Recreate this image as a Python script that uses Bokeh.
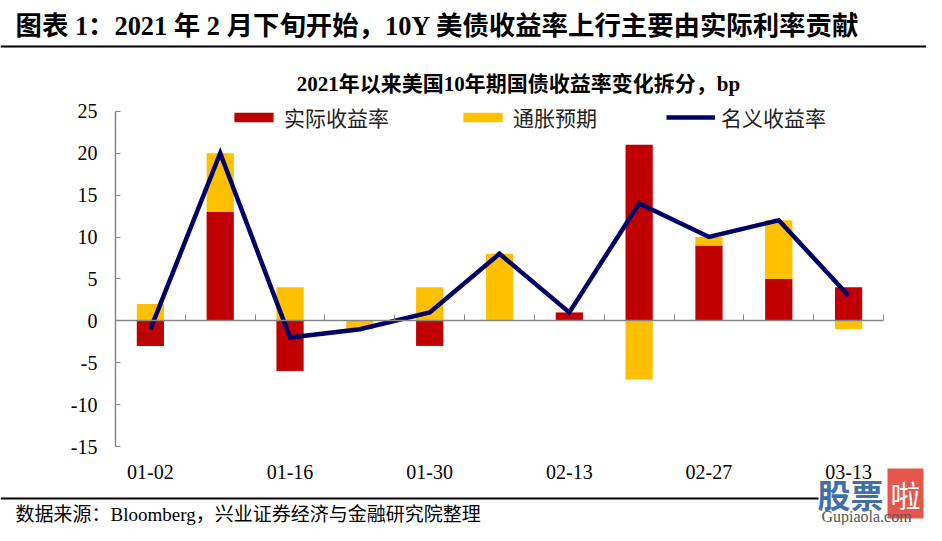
from bokeh.plotting import figure
from bokeh.models import (Range1d, FixedTicker, LinearAxis, Label, BoxAnnotation,
                          Legend, LegendItem)
from bokeh.embed import file_html
from bokeh.resources import INLINE

# ---- data ----
dates = ["01-02", "01-09", "01-16", "01-23", "01-30", "02-06",
         "02-13", "02-20", "02-27", "03-06", "03-13"]
real_yield = [-3, 13, -6, 0, -3, 0, 1, 21, 9, 5, 4]
inflation_exp = [2, 7, 4, -1, 4, 8, 0, -7, 1, 7, -1]
nominal_yield = [-1, 20, -2, -1, 1, 8, 1, 14, 10, 12, 3]
tick_label_idx = [0, 2, 4, 6, 8, 10]
y_ticks = [-15, -10, -5, 0, 5, 10, 15, 20, 25]
y_tick_labels = ["-15", "-10", "-5", "0", "5", "10", "15", "20", "25"]

title_text = "图表 1：2021 年 2 月下旬开始，10Y 美债收益率上行主要由实际利率贡献"
chart_title = "2021年以来美国10年期国债收益率变化拆分，bp"
source_text = "数据来源：Bloomberg，兴业证券经济与金融研究院整理"
series_names = ["实际收益率", "通胀预期", "名义收益率"]

RED = "#C00000"
YEL = "#FFC000"
NAVY = "#000066"
GREY = "#868686"
SERIF = "Liberation Serif, Noto Sans CJK SC"

x = list(range(len(dates)))
n = len(x)

# stacking like Excel: positives stack upward, negatives downward
pos = [0.0] * n
neg = [0.0] * n
stacks = []
for vals in (real_yield, inflation_exp):
    bottoms, tops = [], []
    for i, v in enumerate(vals):
        if v >= 0:
            bottoms.append(pos[i]); tops.append(pos[i] + v); pos[i] += v
        else:
            tops.append(neg[i]); bottoms.append(neg[i] + v); neg[i] += v
    stacks.append((bottoms, tops))

# ---- layout (pixels) ----
W, H = 926, 525
ax_left, ax_right = 115, 883        # plot area in px
ax_top, ax_bottom = 110.8, 446
ymin, ymax = y_ticks[0], y_ticks[-1]
xmin, xmax = -0.5, n - 0.5
ppx = (ax_right - ax_left) / (xmax - xmin)
ppy = (ax_bottom - ax_top) / (ymax - ymin)

p = figure(width=W, height=H, output_backend="svg", toolbar_location=None,
           x_range=Range1d(xmin - ax_left / ppx, xmax + (W - ax_right) / ppx),
           y_range=Range1d(ymin - (H - ax_bottom) / ppy, ymax + ax_top / ppy),
           min_border=0, x_axis_location=None, y_axis_location=None)
p.outline_line_color = None
p.grid.visible = False
p.background_fill_color = "white"
p.border_fill_color = "white"

renderers = []
for (b, t), c in zip(stacks, [RED, YEL]):
    renderers.append(p.vbar(x=x, bottom=b, top=t, width=0.39, fill_color=c, line_color=None))
renderers.append(p.line(x=x, y=nominal_yield, line_color=NAVY, line_width=4.5, line_join="miter"))

# y axis
ya = LinearAxis(fixed_location=xmin, bounds=(ymin, ymax),
                ticker=FixedTicker(ticks=y_ticks),
                major_label_overrides=dict(zip(y_ticks, y_tick_labels)),
                major_tick_in=5, major_tick_out=0, minor_tick_line_color=None,
                axis_line_color=GREY, major_tick_line_color=GREY, axis_line_width=1.5,
                major_label_text_font="Liberation Serif", major_label_text_font_size="20px",
                major_label_text_color="black", major_label_standoff=18)
p.add_layout(ya, "left")

# zero line with category-boundary ticks
za = LinearAxis(fixed_location=0, bounds=(xmin, xmax),
                ticker=FixedTicker(ticks=[i - 0.5 for i in range(n + 1)]),
                major_tick_in=6, major_tick_out=0, minor_tick_line_color=None,
                axis_line_color=GREY, major_tick_line_color=GREY, axis_line_width=1.5,
                major_label_text_alpha=0, major_label_text_font_size="1px")
p.add_layout(za, "below")

# x labels
xa = LinearAxis(fixed_location=ymin, bounds=(xmin, xmax),
                ticker=FixedTicker(ticks=tick_label_idx),
                major_label_overrides={i: dates[i] for i in tick_label_idx},
                axis_line_color=None, major_tick_line_color=None, minor_tick_line_color=None,
                major_label_text_font="Liberation Serif", major_label_text_font_size="20px",
                major_label_text_color="black", major_label_standoff=12)
p.add_layout(xa, "below")

# legend
legend = Legend(items=[LegendItem(label=s, renderers=[r]) for s, r in zip(series_names, renderers)],
                orientation="horizontal", location=(229, 393),
                glyph_width=49, glyph_height=12, label_standoff=6, spacing=69,
                padding=0, margin=0, border_line_color=None,
                background_fill_alpha=0, label_text_font=SERIF,
                label_text_font_size="21px", label_text_color="#222222")
p.add_layout(legend, "center")

def sy(y):  # screen y from top -> bokeh screen units from bottom
    return H - y

# texts
p.add_layout(Label(x=15, y=sy(25), x_units="screen", y_units="screen", text=title_text,
                   text_font=SERIF, text_font_style="bold", text_font_size="26.4px",
                   text_baseline="middle", text_color="black"))
p.add_layout(BoxAnnotation(left=0, right=W, bottom=sy(47), top=sy(45),
                           left_units="screen", right_units="screen",
                           bottom_units="screen", top_units="screen",
                           fill_color="black", fill_alpha=1, line_color=None))
p.add_layout(Label(x=518, y=sy(83), x_units="screen", y_units="screen", text=chart_title,
                   text_font=SERIF, text_font_style="bold", text_font_size="21px",
                   text_baseline="middle", text_align="center", text_color="black"))
p.add_layout(BoxAnnotation(left=0, right=818, bottom=sy(499), top=sy(497),
                           left_units="screen", right_units="screen",
                           bottom_units="screen", top_units="screen",
                           fill_color="black", fill_alpha=1, line_color=None))
p.add_layout(Label(x=15, y=sy(514), x_units="screen", y_units="screen", text=source_text,
                   text_font=SERIF, text_font_size="19px",
                   text_baseline="middle", text_color="black"))
# watermark
p.add_layout(Label(x=817, y=sy(493), x_units="screen", y_units="screen", text="股票",
                   text_font="Noto Sans CJK SC", text_font_style="bold", text_font_size="33px",
                   text_baseline="middle", text_color="#3F6EA8"))
p.add_layout(Label(x=887, y=sy(493), x_units="screen", y_units="screen", text="啦",
                   text_font="Noto Sans CJK SC", text_font_size="30px",
                   text_baseline="middle", text_color="white",
                   background_fill_color="#E5574A", padding=3))
p.add_layout(Label(x=866, y=sy(516), x_units="screen", y_units="screen", text="Gupiaola.com",
                   text_font="Liberation Serif", text_font_size="16px",
                   text_baseline="middle", text_align="center", text_color="#555555"))

open("out.html", "w").write(file_html(p, INLINE))
